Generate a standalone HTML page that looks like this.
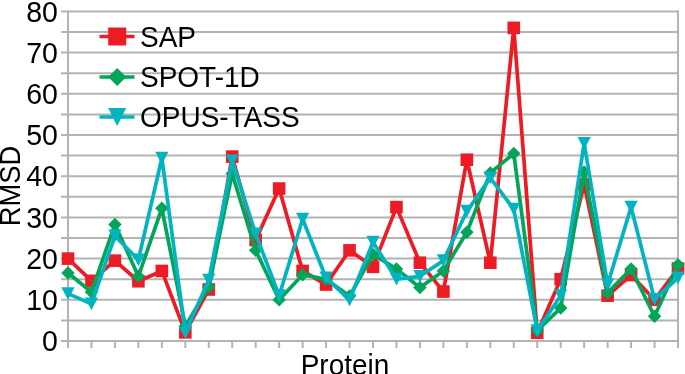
<!DOCTYPE html>
<html><head><meta charset="utf-8"><style>
html,body{margin:0;padding:0;background:#fff;width:685px;height:374px;overflow:hidden}
svg{display:block}
.t{font-family:"Liberation Sans",sans-serif;font-size:28px;fill:#000}
.ax{font-size:28.5px}
.rm{font-size:27.3px}
svg{will-change:transform}
</style></head><body>
<svg width="685" height="374" viewBox="0 0 685 374">
<line x1="61" y1="341.00" x2="679.00" y2="341.00" stroke="#b3b3b3" stroke-width="2"/>
<line x1="61" y1="320.40" x2="679.00" y2="320.40" stroke="#b3b3b3" stroke-width="2"/>
<line x1="61" y1="299.80" x2="679.00" y2="299.80" stroke="#b3b3b3" stroke-width="2"/>
<line x1="61" y1="279.20" x2="679.00" y2="279.20" stroke="#b3b3b3" stroke-width="2"/>
<line x1="61" y1="258.60" x2="679.00" y2="258.60" stroke="#b3b3b3" stroke-width="2"/>
<line x1="61" y1="238.00" x2="679.00" y2="238.00" stroke="#b3b3b3" stroke-width="2"/>
<line x1="61" y1="217.40" x2="679.00" y2="217.40" stroke="#b3b3b3" stroke-width="2"/>
<line x1="61" y1="196.80" x2="679.00" y2="196.80" stroke="#b3b3b3" stroke-width="2"/>
<line x1="61" y1="176.20" x2="679.00" y2="176.20" stroke="#b3b3b3" stroke-width="2"/>
<line x1="61" y1="155.60" x2="679.00" y2="155.60" stroke="#b3b3b3" stroke-width="2"/>
<line x1="61" y1="135.00" x2="679.00" y2="135.00" stroke="#b3b3b3" stroke-width="2"/>
<line x1="61" y1="114.40" x2="679.00" y2="114.40" stroke="#b3b3b3" stroke-width="2"/>
<line x1="61" y1="93.80" x2="679.00" y2="93.80" stroke="#b3b3b3" stroke-width="2"/>
<line x1="61" y1="73.20" x2="679.00" y2="73.20" stroke="#b3b3b3" stroke-width="2"/>
<line x1="61" y1="52.60" x2="679.00" y2="52.60" stroke="#b3b3b3" stroke-width="2"/>
<line x1="61" y1="32.00" x2="679.00" y2="32.00" stroke="#b3b3b3" stroke-width="2"/>
<line x1="61" y1="11.40" x2="679.00" y2="11.40" stroke="#b3b3b3" stroke-width="2"/>
<line x1="68.0" y1="10.40" x2="68.0" y2="348" stroke="#b3b3b3" stroke-width="2"/>
<line x1="678.0" y1="10.40" x2="678.0" y2="348" stroke="#b3b3b3" stroke-width="2"/>
<line x1="68.00" y1="341.0" x2="68.00" y2="348" stroke="#b3b3b3" stroke-width="2"/>
<line x1="91.46" y1="341.0" x2="91.46" y2="348" stroke="#b3b3b3" stroke-width="2"/>
<line x1="114.92" y1="341.0" x2="114.92" y2="348" stroke="#b3b3b3" stroke-width="2"/>
<line x1="138.38" y1="341.0" x2="138.38" y2="348" stroke="#b3b3b3" stroke-width="2"/>
<line x1="161.85" y1="341.0" x2="161.85" y2="348" stroke="#b3b3b3" stroke-width="2"/>
<line x1="185.31" y1="341.0" x2="185.31" y2="348" stroke="#b3b3b3" stroke-width="2"/>
<line x1="208.77" y1="341.0" x2="208.77" y2="348" stroke="#b3b3b3" stroke-width="2"/>
<line x1="232.23" y1="341.0" x2="232.23" y2="348" stroke="#b3b3b3" stroke-width="2"/>
<line x1="255.69" y1="341.0" x2="255.69" y2="348" stroke="#b3b3b3" stroke-width="2"/>
<line x1="279.15" y1="341.0" x2="279.15" y2="348" stroke="#b3b3b3" stroke-width="2"/>
<line x1="302.62" y1="341.0" x2="302.62" y2="348" stroke="#b3b3b3" stroke-width="2"/>
<line x1="326.08" y1="341.0" x2="326.08" y2="348" stroke="#b3b3b3" stroke-width="2"/>
<line x1="349.54" y1="341.0" x2="349.54" y2="348" stroke="#b3b3b3" stroke-width="2"/>
<line x1="373.00" y1="341.0" x2="373.00" y2="348" stroke="#b3b3b3" stroke-width="2"/>
<line x1="396.46" y1="341.0" x2="396.46" y2="348" stroke="#b3b3b3" stroke-width="2"/>
<line x1="419.92" y1="341.0" x2="419.92" y2="348" stroke="#b3b3b3" stroke-width="2"/>
<line x1="443.38" y1="341.0" x2="443.38" y2="348" stroke="#b3b3b3" stroke-width="2"/>
<line x1="466.85" y1="341.0" x2="466.85" y2="348" stroke="#b3b3b3" stroke-width="2"/>
<line x1="490.31" y1="341.0" x2="490.31" y2="348" stroke="#b3b3b3" stroke-width="2"/>
<line x1="513.77" y1="341.0" x2="513.77" y2="348" stroke="#b3b3b3" stroke-width="2"/>
<line x1="537.23" y1="341.0" x2="537.23" y2="348" stroke="#b3b3b3" stroke-width="2"/>
<line x1="560.69" y1="341.0" x2="560.69" y2="348" stroke="#b3b3b3" stroke-width="2"/>
<line x1="584.15" y1="341.0" x2="584.15" y2="348" stroke="#b3b3b3" stroke-width="2"/>
<line x1="607.62" y1="341.0" x2="607.62" y2="348" stroke="#b3b3b3" stroke-width="2"/>
<line x1="631.08" y1="341.0" x2="631.08" y2="348" stroke="#b3b3b3" stroke-width="2"/>
<line x1="654.54" y1="341.0" x2="654.54" y2="348" stroke="#b3b3b3" stroke-width="2"/>
<line x1="678.00" y1="341.0" x2="678.00" y2="348" stroke="#b3b3b3" stroke-width="2"/>
<polyline points="68.00,258.60 91.46,280.85 114.92,260.66 138.38,281.26 161.85,270.96 185.31,332.35 208.77,289.50 232.23,156.63 255.69,240.06 279.15,188.56 302.62,270.96 326.08,284.56 349.54,250.36 373.00,266.84 396.46,207.10 419.92,262.72 443.38,291.56 466.85,159.72 490.31,262.72 513.77,27.88 537.23,332.76 560.69,279.20 584.15,184.44 607.62,295.68 631.08,275.08 654.54,299.80 678.00,268.49" fill="none" stroke="#ed1c24" stroke-width="3.7" stroke-linejoin="round"/>
<rect x="61.70" y="252.30" width="12.6" height="12.6" fill="#ed1c24"/>
<rect x="85.16" y="274.55" width="12.6" height="12.6" fill="#ed1c24"/>
<rect x="108.62" y="254.36" width="12.6" height="12.6" fill="#ed1c24"/>
<rect x="132.08" y="274.96" width="12.6" height="12.6" fill="#ed1c24"/>
<rect x="155.55" y="264.66" width="12.6" height="12.6" fill="#ed1c24"/>
<rect x="179.01" y="326.05" width="12.6" height="12.6" fill="#ed1c24"/>
<rect x="202.47" y="283.20" width="12.6" height="12.6" fill="#ed1c24"/>
<rect x="225.93" y="150.33" width="12.6" height="12.6" fill="#ed1c24"/>
<rect x="249.39" y="233.76" width="12.6" height="12.6" fill="#ed1c24"/>
<rect x="272.85" y="182.26" width="12.6" height="12.6" fill="#ed1c24"/>
<rect x="296.32" y="264.66" width="12.6" height="12.6" fill="#ed1c24"/>
<rect x="319.78" y="278.26" width="12.6" height="12.6" fill="#ed1c24"/>
<rect x="343.24" y="244.06" width="12.6" height="12.6" fill="#ed1c24"/>
<rect x="366.70" y="260.54" width="12.6" height="12.6" fill="#ed1c24"/>
<rect x="390.16" y="200.80" width="12.6" height="12.6" fill="#ed1c24"/>
<rect x="413.62" y="256.42" width="12.6" height="12.6" fill="#ed1c24"/>
<rect x="437.08" y="285.26" width="12.6" height="12.6" fill="#ed1c24"/>
<rect x="460.55" y="153.42" width="12.6" height="12.6" fill="#ed1c24"/>
<rect x="484.01" y="256.42" width="12.6" height="12.6" fill="#ed1c24"/>
<rect x="507.47" y="21.58" width="12.6" height="12.6" fill="#ed1c24"/>
<rect x="530.93" y="326.46" width="12.6" height="12.6" fill="#ed1c24"/>
<rect x="554.39" y="272.90" width="12.6" height="12.6" fill="#ed1c24"/>
<rect x="577.85" y="178.14" width="12.6" height="12.6" fill="#ed1c24"/>
<rect x="601.32" y="289.38" width="12.6" height="12.6" fill="#ed1c24"/>
<rect x="624.78" y="268.78" width="12.6" height="12.6" fill="#ed1c24"/>
<rect x="648.24" y="293.50" width="12.6" height="12.6" fill="#ed1c24"/>
<rect x="671.70" y="262.19" width="12.6" height="12.6" fill="#ed1c24"/>
<polyline points="68.00,273.02 91.46,291.97 114.92,224.40 138.38,276.32 161.85,208.34 185.31,326.17 208.77,287.03 232.23,173.73 255.69,250.36 279.15,299.80 302.62,274.67 326.08,279.20 349.54,296.09 373.00,254.48 396.46,268.90 419.92,287.44 443.38,270.96 466.85,232.23 490.31,172.90 513.77,153.54 537.23,330.70 560.69,308.04 584.15,172.08 607.62,292.80 631.08,268.90 654.54,316.28 678.00,264.78" fill="none" stroke="#03a55b" stroke-width="3.7" stroke-linejoin="round"/>
<polygon points="68.00,266.27 74.75,273.02 68.00,279.77 61.25,273.02" fill="#03a55b"/>
<polygon points="91.46,285.22 98.21,291.97 91.46,298.72 84.71,291.97" fill="#03a55b"/>
<polygon points="114.92,217.65 121.67,224.40 114.92,231.15 108.17,224.40" fill="#03a55b"/>
<polygon points="138.38,269.57 145.13,276.32 138.38,283.07 131.63,276.32" fill="#03a55b"/>
<polygon points="161.85,201.59 168.60,208.34 161.85,215.09 155.10,208.34" fill="#03a55b"/>
<polygon points="185.31,319.42 192.06,326.17 185.31,332.92 178.56,326.17" fill="#03a55b"/>
<polygon points="208.77,280.28 215.52,287.03 208.77,293.78 202.02,287.03" fill="#03a55b"/>
<polygon points="232.23,166.98 238.98,173.73 232.23,180.48 225.48,173.73" fill="#03a55b"/>
<polygon points="255.69,243.61 262.44,250.36 255.69,257.11 248.94,250.36" fill="#03a55b"/>
<polygon points="279.15,293.05 285.90,299.80 279.15,306.55 272.40,299.80" fill="#03a55b"/>
<polygon points="302.62,267.92 309.37,274.67 302.62,281.42 295.87,274.67" fill="#03a55b"/>
<polygon points="326.08,272.45 332.83,279.20 326.08,285.95 319.33,279.20" fill="#03a55b"/>
<polygon points="349.54,289.34 356.29,296.09 349.54,302.84 342.79,296.09" fill="#03a55b"/>
<polygon points="373.00,247.73 379.75,254.48 373.00,261.23 366.25,254.48" fill="#03a55b"/>
<polygon points="396.46,262.15 403.21,268.90 396.46,275.65 389.71,268.90" fill="#03a55b"/>
<polygon points="419.92,280.69 426.67,287.44 419.92,294.19 413.17,287.44" fill="#03a55b"/>
<polygon points="443.38,264.21 450.13,270.96 443.38,277.71 436.63,270.96" fill="#03a55b"/>
<polygon points="466.85,225.48 473.60,232.23 466.85,238.98 460.10,232.23" fill="#03a55b"/>
<polygon points="490.31,166.15 497.06,172.90 490.31,179.65 483.56,172.90" fill="#03a55b"/>
<polygon points="513.77,146.79 520.52,153.54 513.77,160.29 507.02,153.54" fill="#03a55b"/>
<polygon points="537.23,323.95 543.98,330.70 537.23,337.45 530.48,330.70" fill="#03a55b"/>
<polygon points="560.69,301.29 567.44,308.04 560.69,314.79 553.94,308.04" fill="#03a55b"/>
<polygon points="584.15,165.33 590.90,172.08 584.15,178.83 577.40,172.08" fill="#03a55b"/>
<polygon points="607.62,286.05 614.37,292.80 607.62,299.55 600.87,292.80" fill="#03a55b"/>
<polygon points="631.08,262.15 637.83,268.90 631.08,275.65 624.33,268.90" fill="#03a55b"/>
<polygon points="654.54,309.53 661.29,316.28 654.54,323.03 647.79,316.28" fill="#03a55b"/>
<polygon points="678.00,258.03 684.75,264.78 678.00,271.53 671.25,264.78" fill="#03a55b"/>
<polyline points="68.00,293.62 91.46,303.92 114.92,235.94 138.38,259.84 161.85,158.07 185.31,332.76 208.77,280.02 232.23,160.75 255.69,233.88 279.15,295.68 302.62,219.05 326.08,277.96 349.54,299.80 373.00,242.12 396.46,279.20 419.92,276.32 443.38,260.66 466.85,211.22 490.31,177.85 513.77,209.16 537.23,330.70 560.69,295.68 584.15,143.24 607.62,284.56 631.08,207.10 654.54,299.39 678.00,277.96" fill="none" stroke="#02b4c0" stroke-width="3.7" stroke-linejoin="round"/>
<polygon points="61.40,287.27 74.60,287.27 68.00,299.97" fill="#02b4c0"/>
<polygon points="84.86,297.57 98.06,297.57 91.46,310.27" fill="#02b4c0"/>
<polygon points="108.32,229.59 121.52,229.59 114.92,242.29" fill="#02b4c0"/>
<polygon points="131.78,253.49 144.98,253.49 138.38,266.19" fill="#02b4c0"/>
<polygon points="155.25,151.72 168.45,151.72 161.85,164.42" fill="#02b4c0"/>
<polygon points="178.71,326.41 191.91,326.41 185.31,339.11" fill="#02b4c0"/>
<polygon points="202.17,273.67 215.37,273.67 208.77,286.37" fill="#02b4c0"/>
<polygon points="225.63,154.40 238.83,154.40 232.23,167.10" fill="#02b4c0"/>
<polygon points="249.09,227.53 262.29,227.53 255.69,240.23" fill="#02b4c0"/>
<polygon points="272.55,289.33 285.75,289.33 279.15,302.03" fill="#02b4c0"/>
<polygon points="296.02,212.70 309.22,212.70 302.62,225.40" fill="#02b4c0"/>
<polygon points="319.48,271.61 332.68,271.61 326.08,284.31" fill="#02b4c0"/>
<polygon points="342.94,293.45 356.14,293.45 349.54,306.15" fill="#02b4c0"/>
<polygon points="366.40,235.77 379.60,235.77 373.00,248.47" fill="#02b4c0"/>
<polygon points="389.86,272.85 403.06,272.85 396.46,285.55" fill="#02b4c0"/>
<polygon points="413.32,269.97 426.52,269.97 419.92,282.67" fill="#02b4c0"/>
<polygon points="436.78,254.31 449.98,254.31 443.38,267.01" fill="#02b4c0"/>
<polygon points="460.25,204.87 473.45,204.87 466.85,217.57" fill="#02b4c0"/>
<polygon points="483.71,171.50 496.91,171.50 490.31,184.20" fill="#02b4c0"/>
<polygon points="507.17,202.81 520.37,202.81 513.77,215.51" fill="#02b4c0"/>
<polygon points="530.63,324.35 543.83,324.35 537.23,337.05" fill="#02b4c0"/>
<polygon points="554.09,289.33 567.29,289.33 560.69,302.03" fill="#02b4c0"/>
<polygon points="577.55,136.89 590.75,136.89 584.15,149.59" fill="#02b4c0"/>
<polygon points="601.02,278.21 614.22,278.21 607.62,290.91" fill="#02b4c0"/>
<polygon points="624.48,200.75 637.68,200.75 631.08,213.45" fill="#02b4c0"/>
<polygon points="647.94,293.04 661.14,293.04 654.54,305.74" fill="#02b4c0"/>
<polygon points="671.40,271.61 684.60,271.61 678.00,284.31" fill="#02b4c0"/>
<text transform="translate(57.9,351.20) scale(1,1.05)" text-anchor="end" class="t ax">0</text>
<text transform="translate(57.9,310.00) scale(1,1.05)" text-anchor="end" class="t ax">10</text>
<text transform="translate(57.9,268.80) scale(1,1.05)" text-anchor="end" class="t ax">20</text>
<text transform="translate(57.9,227.60) scale(1,1.05)" text-anchor="end" class="t ax">30</text>
<text transform="translate(57.9,186.40) scale(1,1.05)" text-anchor="end" class="t ax">40</text>
<text transform="translate(57.9,145.20) scale(1,1.05)" text-anchor="end" class="t ax">50</text>
<text transform="translate(57.9,104.00) scale(1,1.05)" text-anchor="end" class="t ax">60</text>
<text transform="translate(57.9,62.80) scale(1,1.05)" text-anchor="end" class="t ax">70</text>
<text transform="translate(57.9,21.60) scale(1,1.05)" text-anchor="end" class="t ax">80</text>
<line x1="99.5" y1="36.5" x2="134.5" y2="36.5" stroke="#ed1c24" stroke-width="3.7"/>
<rect x="108.20" y="27.50" width="18" height="18" fill="#ed1c24"/>
<text transform="translate(140,46.80) scale(1,1.05)" class="t">SAP</text>
<line x1="99.5" y1="77.0" x2="134.5" y2="77.0" stroke="#03a55b" stroke-width="3.7"/>
<polygon points="117.20,68.00 126.20,77.00 117.20,86.00 108.20,77.00" fill="#03a55b"/>
<text transform="translate(140,87.30) scale(1,1.05)" class="t">SPOT-1D</text>
<line x1="99.5" y1="117.0" x2="134.5" y2="117.0" stroke="#02b4c0" stroke-width="3.7"/>
<polygon points="108.20,108.00 126.20,108.00 117.20,126.00" fill="#02b4c0"/>
<text transform="translate(140,127.30) scale(1,1.05)" class="t">OPUS-TASS</text>
<text class="t rm" transform="translate(20,186) rotate(-90) scale(1,1.07)" text-anchor="middle">RMSD</text>
<text class="t" transform="translate(345,375) scale(1,1.05)" text-anchor="middle">Protein</text>
</svg>
</body></html>
